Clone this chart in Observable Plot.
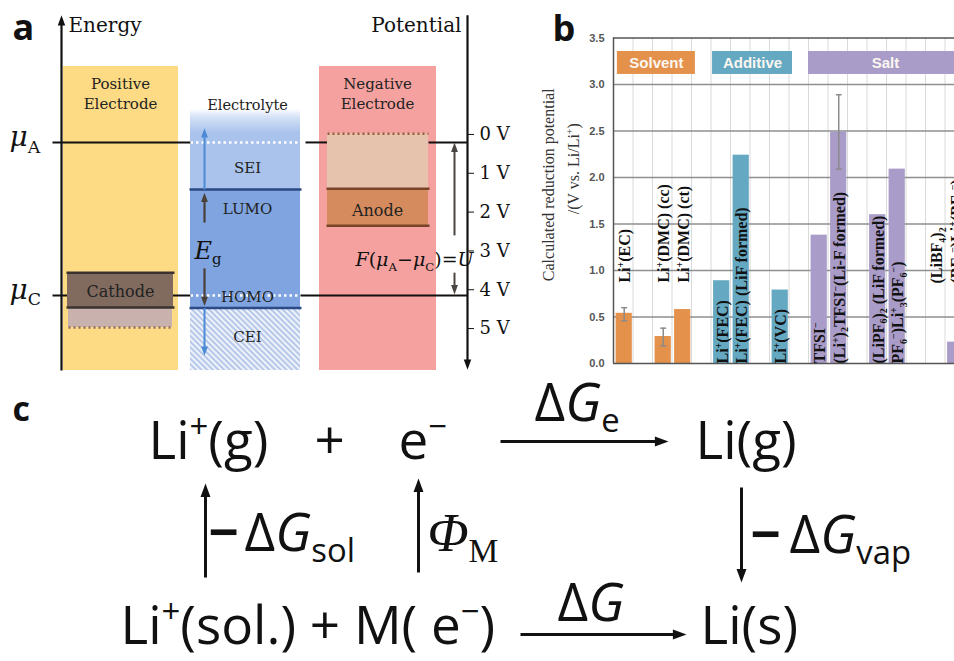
<!DOCTYPE html>
<html><head><meta charset="utf-8">
<script src="https://cdn.jsdelivr.net/npm/d3@7"></script>
<script src="https://cdn.jsdelivr.net/npm/@observablehq/plot@0.6"></script>
<style>
body{margin:0;background:#fff;}
#fig{position:relative;width:954px;height:661px;overflow:hidden;background:#fff;}
.panel{position:absolute;}
</style></head><body><div id="fig">
<div id="pa" class="panel" style="left:0;top:0;width:520px;height:370px"></div>
<div id="pb" class="panel" style="left:530px;top:0;width:424px;height:370px;overflow:hidden"></div>
<div id="pc" class="panel" style="left:0;top:380px;width:954px;height:281px"></div>
</div>
<script>
// ================= Panel b: chart data =================
const species = ["Li^{+}(EC)", "Li^{+}(DMC) (cc)", "Li^{+}(DMC) (ct)", "Li^{+}(FEC)", "Li^{+}(FEC) (LiF formed)", "Li^{+}(VC)",
  "TFSI^{−}", "(Li^{+})_{2}TFSI^{−}(Li-F formed)", "(LiPF_{6})_{2} (LiF formed)", "PF_{6}^{−})Li^{+}_{3}(PF_{6}^{−})", "(LiBF_{4})_{2}", "(BF_{4}^{−})Li^{+}(BF_{4}^{−})"];
const slot = [1, 3, 4, 6, 7, 9, 11, 12, 14, 15, 17, 18];
const group = ["Solvent", "Solvent", "Solvent", "Additive", "Additive", "Additive", "Salt", "Salt", "Salt", "Salt", "Salt", "Salt"];
const potential = [0.54, 0.29, 0.58, 0.89, 2.24, 0.79, 1.38, 2.49, 1.60, 2.09, null, 0.23];
const errLow = [0.46, 0.19, null, null, null, null, null, 2.09, null, null, null, null];
const errHigh = [0.60, 0.38, null, null, null, null, null, 2.89, null, null, null, null];
const labelFrom = [0.87, 0.87, 0.87, 0, 0, 0, 0, 0, 0, 0, 0.86, 0.86];
const groupNames = ["Solvent", "Additive", "Salt"];
const groupColors = ["#E3914B", "#64A8C2", "#A99CC8"];
const groupStart = [0.7, 5.58, 10.5];
const groupEnd = [4.7, 9.68, 18.4];
const yTicks = [0, 0.5, 1.0, 1.5, 2.0, 2.5, 3.0, 3.5];

// ================= Panel a: diagram content =================
const voltTicks = [0, 1, 2, 3, 4, 5];

// ================= helpers =================
function headSymbol(dir) {
  return {draw(ctx, size) {
    const r = Math.sqrt(size / Math.PI), L = 1.7 * r, W = 0.62 * r;
    if (dir === "up") { ctx.moveTo(0, 0); ctx.lineTo(-W, L); ctx.lineTo(W, L); }
    else if (dir === "down") { ctx.moveTo(0, 0); ctx.lineTo(-W, -L); ctx.lineTo(W, -L); }
    else { ctx.moveTo(0, 0); ctx.lineTo(-L, -W); ctx.lineTo(-L, W); }
    ctx.closePath();
  }};
}
function arrowMarks(list, {stroke, width, r, ky = 1, kx = 1}) {
  const back = 0.85 * r;
  const shaft = list.map(d => ({
    x1: d.x1, y1: d.y1,
    x2: d.dir === "right" ? d.x2 - back * kx : d.x2,
    y2: d.dir === "up" ? d.y2 + back * ky : d.dir === "down" ? d.y2 - back * ky : d.y2
  }));
  return [
    Plot.link(shaft, {x1: "x1", y1: "y1", x2: "x2", y2: "y2", stroke, strokeWidth: width}),
    ...["up", "down", "right"].map(dir => Plot.dot(list.filter(d => d.dir === dir), {x: "x2", y: "y2", r, fill: stroke, symbol: headSymbol(dir)}))
  ];
}
function richify(svg) {
  svg.querySelectorAll("text").forEach(t => {
    if (t.querySelector("tspan")) return;
    const s = t.textContent;
    if (!/[\^_~!]\{/.test(s)) return;
    const fs = parseFloat(getComputedStyle(t).fontSize) || 10;
    const segs = [];
    const re = /([\^_~!])\{([^}]*)\}/g;
    let last = 0, m;
    while ((m = re.exec(s))) {
      if (m.index > last) segs.push({t: s.slice(last, m.index), k: ""});
      segs.push({t: m[2], k: m[1]});
      last = re.lastIndex;
    }
    if (last < s.length) segs.push({t: s.slice(last), k: ""});
    t.textContent = "";
    let off = 0;
    for (const g of segs) {
      const ts = document.createElementNS("http://www.w3.org/2000/svg", "tspan");
      let target = 0;
      if (g.k === "^") { target = -0.38 * fs; ts.setAttribute("font-size", 0.62 * fs); }
      else if (g.k === "_") { target = 0.22 * fs; ts.setAttribute("font-size", 0.62 * fs); }
      else if (g.k === "~") ts.setAttribute("font-style", "italic");
      else if (g.k === "!") ts.setAttribute("font-weight", "bold");
      if (target !== off) { ts.setAttribute("dy", target - off); off = target; }
      ts.textContent = g.t;
      t.appendChild(ts);
    }
  });
}
function addDefs(svg, html) {
  const defs = document.createElementNS("http://www.w3.org/2000/svg", "defs");
  defs.innerHTML = html;
  svg.insertBefore(defs, svg.firstChild);
}

// ================= Panel a =================
const aBack = [
  {x1: 63, x2: 178, y1: -1.75, y2: 6.08, fill: "#FDDA84"},
  {x1: 319, x2: 436, y1: -1.75, y2: 6.08, fill: "#F4A19F"},
  {x1: 190, x2: 300, y1: -0.65, y2: 1.42, fill: "url(#eFade)"},
  {x1: 190, x2: 300, y1: 1.42, y2: 4.47, fill: "#7FA4DF"},
  {x1: 190, x2: 300, y1: 4.47, y2: 6.08, fill: "url(#ceiHatch)"}
];
const aBoxes = [
  {x1: 68, x2: 172, y1: 4.46, y2: 4.97, fill: "#C9B2AE"},
  {x1: 67, x2: 173, y1: 3.56, y2: 4.46, fill: "#816B5F"},
  {x1: 327, x2: 428, y1: -0.02, y2: 1.40, fill: "#E6C3AC"},
  {x1: 327, x2: 428, y1: 1.40, y2: 2.35, fill: "#D58B5D"}
];
const aBlack = [
  {x1: 52, y1: 0.206, x2: 190, y2: 0.206}, {x1: 305, y1: 0.206, x2: 327, y2: 0.206}, {x1: 428, y1: 0.206, x2: 467, y2: 0.206},
  {x1: 52, y1: 4.15, x2: 190, y2: 4.15}, {x1: 300, y1: 4.15, x2: 467, y2: 4.15}
];
const aWhiteDots = [{x1: 190, y1: 0.206, x2: 300, y2: 0.206}, {x1: 190, y1: 4.15, x2: 300, y2: 4.15}];
const aBlueLines = [{x1: 189, y1: 1.42, x2: 301, y2: 1.42}, {x1: 189, y1: 4.47, x2: 301, y2: 4.47}];
const aCathodeLines = [{x1: 66, y1: 3.56, x2: 174, y2: 3.56}, {x1: 66, y1: 4.46, x2: 174, y2: 4.46}];
const aAnodeLines = [{x1: 326, y1: 1.40, x2: 429, y2: 1.40}, {x1: 326, y1: 2.35, x2: 429, y2: 2.35}];
const ky = 9.53 / 370;
const pa = Plot.plot({
  width: 520, height: 370, marginLeft: 0, marginRight: 53, marginTop: 0, marginBottom: 0,
  x: {domain: [0, 467], axis: null},
  y: {domain: [6.08, -3.45], axis: "right", ticks: voltTicks, tickFormat: d => `${d} V`, tickSize: 6, tickPadding: 6, label: null},
  color: {type: "identity"},
  style: {fontFamily: "DejaVu Serif", fontSize: "18px", color: "#111", background: "transparent", overflow: "visible", maxWidth: "none"},
  marks: [
    Plot.rect(aBack, {x1: "x1", x2: "x2", y1: "y1", y2: "y2", fill: "fill"}),
    Plot.link(aBlack, {x1: "x1", y1: "y1", x2: "x2", y2: "y2", stroke: "#111", strokeWidth: 2}),
    Plot.link(aWhiteDots, {x1: "x1", y1: "y1", x2: "x2", y2: "y2", stroke: "#fff", strokeWidth: 2.5, strokeDasharray: "2.5,3"}),
    Plot.rect(aBoxes, {x1: "x1", x2: "x2", y1: "y1", y2: "y2", fill: "fill"}),
    Plot.link(aBlueLines, {x1: "x1", y1: "y1", x2: "x2", y2: "y2", stroke: "#2B4A86", strokeWidth: 2.5}),
    Plot.link(aCathodeLines, {x1: "x1", y1: "y1", x2: "x2", y2: "y2", stroke: "#3A322E", strokeWidth: 2.5}),
    Plot.link(aAnodeLines, {x1: "x1", y1: "y1", x2: "x2", y2: "y2", stroke: "#7A4429", strokeWidth: 2.5}),
    Plot.link([{x1: 68, y1: 4.97, x2: 172, y2: 4.97}], {x1: "x1", y1: "y1", x2: "x2", y2: "y2", stroke: "#8C6A66", strokeWidth: 2.5, strokeDasharray: "2,3"}),
    Plot.link([{x1: 327, y1: -0.02, x2: 428, y2: -0.02}], {x1: "x1", y1: "y1", x2: "x2", y2: "y2", stroke: "#9A5B3E", strokeWidth: 2.5, strokeDasharray: "2,3"}),
    ...arrowMarks([{x1: 61, y1: 6.08, x2: 61, y2: -3.07, dir: "up"}], {stroke: "#111", width: 2.2, r: 6, ky}),
    ...arrowMarks([{x1: 467, y1: -3.07, x2: 467, y2: 6.06, dir: "down"}], {stroke: "#111", width: 2.2, r: 6, ky}),
    ...arrowMarks([{x1: 204, y1: 1.42, x2: 204, y2: -0.16, dir: "up"}, {x1: 204, y1: 4.47, x2: 204, y2: 5.70, dir: "down"}], {stroke: "#4C8AD6", width: 2, r: 5.5, ky}),
    ...arrowMarks([{x1: 204, y1: 2.27, x2: 204, y2: 1.50, dir: "up"}, {x1: 204, y1: 3.45, x2: 204, y2: 4.42, dir: "down"}], {stroke: "#4A4038", width: 2.2, r: 5.5, ky}),
    ...arrowMarks([{x1: 454, y1: 2.6, x2: 454, y2: 0.21, dir: "up"}, {x1: 454, y1: 3.56, x2: 454, y2: 4.12, dir: "down"}], {stroke: "#4A4540", width: 2, r: 5.5, ky}),
    Plot.text([
      {t: "Positive\nElectrode", x: 120, y: -1.08, s: 15}, {t: "Negative\nElectrode", x: 377, y: -1.08, s: 15},
      {t: "Electrolyte", x: 247, y: -0.80, s: 14.5}, {t: "SEI", x: 247, y: 0.82, s: 15}, {t: "LUMO", x: 247, y: 1.88, s: 15},
      {t: "HOMO", x: 247, y: 4.15, s: 15}, {t: "CEI", x: 247, y: 5.18, s: 15},
      {t: "Cathode", x: 120, y: 4.02, s: 16}, {t: "Anode", x: 377, y: 1.91, s: 16}
    ], {x: "x", y: "y", text: "t", fontSize: "s", fill: "#222", fontFamily: "DejaVu Serif", lineHeight: 1.35}),
    Plot.text([{t: "Energy", x: 68, y: -2.63}], {x: "x", y: "y", text: "t", fontSize: 20, fill: "#111", textAnchor: "start", lineAnchor: "bottom", fontFamily: "DejaVu Serif"}),
    Plot.text([{t: "Potential", x: 461, y: -2.63}], {x: "x", y: "y", text: "t", fontSize: 20, fill: "#111", textAnchor: "end", lineAnchor: "bottom", fontFamily: "DejaVu Serif"}),
    Plot.text([{t: "~{μ}_{A}", x: 9, y: 0.31}, {t: "~{μ}_{C}", x: 9, y: 4.23}], {x: "x", y: "y", text: "t", fontSize: 28, fill: "#111", textAnchor: "start", lineAnchor: "bottom", fontFamily: "DejaVu Serif"}),
    Plot.text([{t: "~{E}_{g}", x: 194, y: 3.20}], {x: "x", y: "y", text: "t", fontSize: 24, fill: "#111", textAnchor: "start", lineAnchor: "bottom", fontFamily: "DejaVu Serif"}),
    Plot.text([{t: "~{F}(~{μ}_{A}−~{μ}_{C})=~{U}", x: 355, y: 3.40}], {x: "x", y: "y", text: "t", fontSize: 19, fill: "#111", textAnchor: "start", lineAnchor: "bottom", fontFamily: "DejaVu Serif"}),
    Plot.text([{t: "a", x: 12, y: -2.42}], {x: "x", y: "y", text: "t", fontSize: 36, fontWeight: "bold", fill: "#111", textAnchor: "start", lineAnchor: "bottom", fontFamily: "Open Sans"})
  ]
});
document.getElementById("pa").appendChild(pa);
addDefs(pa, `<linearGradient id="eFade" x1="0" y1="0" x2="0" y2="1"><stop offset="0" stop-color="#fff"/><stop offset="0.1" stop-color="#D6E2F6"/><stop offset="0.3" stop-color="#A9C3EC"/><stop offset="1" stop-color="#A9C3EC"/></linearGradient>
<pattern id="ceiHatch" width="4" height="4" patternUnits="userSpaceOnUse" patternTransform="rotate(-45)"><rect width="4" height="4" fill="#EDF2FB"/><line x1="1" y1="0" x2="1" y2="4" stroke="#A9BEE4" stroke-width="1.6"/></pattern>`);
richify(pa);

// ================= Panel b =================
const bars = species.map((s, i) => ({species: s, slot: slot[i], group: group[i], potential: potential[i], lo: errLow[i], hi: errHigh[i], from: labelFrom[i]}));
const colorOf = Object.fromEntries(groupNames.map((g, i) => [g, groupColors[i]]));
const errs = bars.filter(d => d.lo != null);
const pb = Plot.plot({
  width: 464, height: 370, marginLeft: 83, marginRight: 10.5, marginTop: 37.5, marginBottom: 7,
  x: {domain: [0.5, 19.5], axis: null},
  y: {domain: [0, 3.5], ticks: yTicks, tickFormat: d3.format(".1f"), tickSize: 0, tickPadding: 9, label: null},
  style: {fontFamily: "Liberation Sans", fontSize: "11px", fontWeight: "bold", color: "#555", background: "transparent", maxWidth: "none", overflow: "visible"},
  marks: [
    Plot.ruleX(d3.range(1.5, 19.5, 1), {stroke: "#dadada", strokeWidth: 1}),
    Plot.ruleY(yTicks.filter(d => d > 0 && d < 3.5), {stroke: "#8f8f8f", strokeWidth: 1.5}),
    Plot.rect(groupNames, {x1: (d, i) => groupStart[i], x2: (d, i) => groupEnd[i], y1: 3.108, y2: 3.355, fill: (d, i) => groupColors[i]}),
    Plot.text(groupNames, {x: (d, i) => (groupStart[i] + groupEnd[i]) / 2, y: 3.23, text: d => d, fill: "#fbf6f0", fontSize: 15, fontWeight: "bold", fontFamily: "Liberation Sans"}),
    Plot.rectY(bars.filter(d => d.potential != null), {x1: d => d.slot - 0.5, x2: d => d.slot + 0.5, y: "potential", insetLeft: 2.6, insetRight: 0.7, fill: d => colorOf[d.group]}),
    Plot.ruleX(errs, {x: d => d.slot + 0.05, y1: "lo", y2: "hi", stroke: "#8a8a8a", strokeWidth: 1.5}),
    Plot.link(errs.flatMap(d => [{s: d.slot, v: d.lo}, {s: d.slot, v: d.hi}]), {x1: d => d.s - 0.1, x2: d => d.s + 0.2, y1: "v", y2: "v", stroke: "#8a8a8a", strokeWidth: 1.5}),
    Plot.ruleY([0, 3.5], {stroke: "#555", strokeWidth: 1.5}),
    Plot.ruleX([0.5], {stroke: "#555", strokeWidth: 1.5}),
    Plot.text(bars, {x: "slot", y: "from", text: "species", rotate: -90, textAnchor: "start", lineAnchor: "middle", dx: 2, fontSize: 16, fontWeight: "bold", fontFamily: "Liberation Serif", fill: "#111"}),
    Plot.text(["Calculated reduction potential"], {frameAnchor: "left", text: d => d, rotate: -90, textAnchor: "middle", lineAnchor: "middle", dx: -65, dy: -16, fontSize: 16, fontWeight: "normal", fontFamily: "Liberation Serif", fill: "#333"}),
    Plot.text(["/(V vs. Li/Li^{+})"], {frameAnchor: "left", text: d => d, rotate: -90, textAnchor: "middle", lineAnchor: "middle", dx: -40, dy: -32, fontSize: 16, fontWeight: "normal", fontFamily: "Liberation Serif", fill: "#333"}),
    Plot.text(["b"], {frameAnchor: "top-left", text: d => d, dx: -61, dy: 3, textAnchor: "start", lineAnchor: "bottom", fontSize: 36, fontWeight: "bold", fontFamily: "Open Sans", fill: "#111"})
  ]
});
document.getElementById("pb").appendChild(pb);
richify(pb);

// ================= Panel c =================
const cTexts = [
  {t: "Li^{+}(g)", x: 148, y: 458}, {t: "+", x: 314, y: 458}, {t: "e^{−}", x: 398, y: 458},
  {t: "Δ~{G}_{e}", x: 534, y: 420}, {t: "Li(g)", x: 695, y: 458},
  {t: "!{−}", x: 208, y: 550}, {t: "Δ~{G}_{sol}", x: 244, y: 550},
  {t: "!{−}", x: 750, y: 552}, {t: "Δ~{G}_{vap}", x: 789, y: 552},
  {t: "Li^{+}(sol.) + M( e^{−})", x: 120, y: 643}, {t: "Δ~{G}", x: 557, y: 620}, {t: "Li(s)", x: 700, y: 643}
];
const cArrows = [
  {x1: 500, y1: 441, x2: 668, y2: 441, dir: "right"}, {x1: 520, y1: 634, x2: 686, y2: 634, dir: "right"},
  {x1: 205, y1: 577, x2: 205, y2: 483, dir: "up"}, {x1: 418, y1: 572, x2: 418, y2: 478, dir: "up"},
  {x1: 741, y1: 487, x2: 741, y2: 582, dir: "down"}
];
const pc = Plot.plot({
  width: 954, height: 281, margin: 0,
  x: {domain: [0, 954], axis: null},
  y: {domain: [661, 380], axis: null},
  style: {background: "transparent", overflow: "visible", maxWidth: "none"},
  marks: [
    ...arrowMarks(cArrows, {stroke: "#111", width: 3, r: 8}),
    Plot.text(cTexts, {x: "x", y: "y", text: "t", fontSize: 53, fill: "#111", textAnchor: "start", lineAnchor: "bottom", fontFamily: "Open Sans"}),
    Plot.text([{t: "~{Φ}_{M}", x: 427, y: 550}], {x: "x", y: "y", text: "t", fontSize: 54, fill: "#111", textAnchor: "start", lineAnchor: "bottom", fontFamily: "Liberation Serif"}),
    Plot.text([{t: "c", x: 12, y: 420}], {x: "x", y: "y", text: "t", fontSize: 34, fontWeight: "bold", fill: "#111", textAnchor: "start", lineAnchor: "bottom", fontFamily: "Open Sans"})
  ]
});
document.getElementById("pc").appendChild(pc);
richify(pc);
</script></body></html>
